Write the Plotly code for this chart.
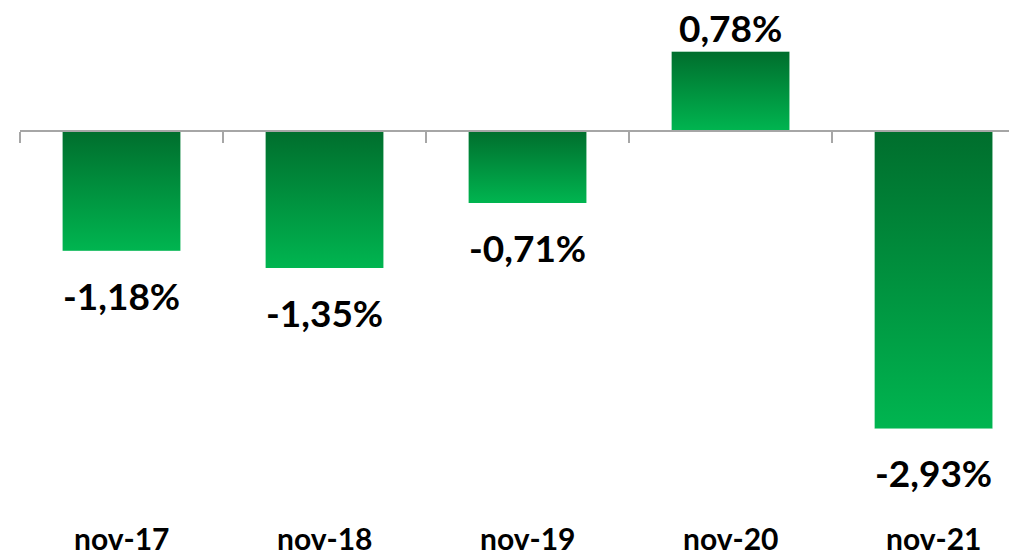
import plotly.graph_objects as go

# ---- data ----
categories = ["nov-17", "nov-18", "nov-19", "nov-20", "nov-21"]
values = [-1.18, -1.35, -0.71, 0.78, -2.93]
value_labels = ["-1,18%", "-1,35%", "-0,71%", "0,78%", "-2,93%"]

# ---- styling ----
BAR_W = 0.58
DARK = "#006E2D"
LIGHT = "#00B550"
AXIS_GRAY = "#A6A6A6"
Y_MIN, Y_MAX = -4.148, 1.212
X_MIN, X_MAX = -0.5, 4.411
FONT = "Lato"

xs = list(range(len(categories)))
fig = go.Figure()

# base bars
fig.add_trace(go.Bar(
    x=xs, y=values, width=BAR_W,
    marker=dict(color=LIGHT, line=dict(color="white", width=1)),
    showlegend=False, hoverinfo="skip",
))

# vertical gradient overlay per bar (dark at top, light at bottom)
for i, v in zip(xs, values):
    lo, hi = min(0, v), max(0, v)
    fig.add_trace(go.Scatter(
        x=[i - BAR_W / 2, i + BAR_W / 2, i + BAR_W / 2, i - BAR_W / 2, i - BAR_W / 2],
        y=[lo, lo, hi, hi, lo],
        mode="none", fill="toself",
        fillgradient=dict(type="vertical", colorscale=[[0, LIGHT], [1, DARK]],
                          start=lo, stop=hi),
        showlegend=False, hoverinfo="skip",
    ))

annotations = []
for i, v, t in zip(xs, values, value_labels):
    annotations.append(dict(
        x=i, y=v, xref="x", yref="y", text=t, showarrow=False,
        yanchor="top" if v < 0 else "bottom",
        yshift=-20 if v < 0 else 0,
        font=dict(family=FONT, size=37, color="black", weight="bold"),
    ))
for i, c in zip(xs, categories):
    annotations.append(dict(
        x=i, y=0.026, xref="x", yref="paper", text=c, showarrow=False,
        yanchor="middle",
        font=dict(family=FONT, size=30, color="black", weight="bold"),
    ))

zero_pos = (0 - Y_MIN) / (Y_MAX - Y_MIN)
fig.update_layout(
    width=1009, height=544,
    margin=dict(l=12, r=0, t=0, b=0),
    paper_bgcolor="white", plot_bgcolor="white",
    showlegend=False,
    xaxis=dict(range=[X_MIN, X_MAX], anchor="free", position=zero_pos,
               showline=True, linecolor=AXIS_GRAY, linewidth=2,
               ticks="outside", ticklen=11, tickwidth=2, tickcolor=AXIS_GRAY,
               tickvals=[-0.5, 0.5, 1.5, 2.5, 3.5], showticklabels=False,
               showgrid=False, zeroline=False),
    yaxis=dict(range=[Y_MIN, Y_MAX], visible=False, showgrid=False, zeroline=False),
    annotations=annotations,
)

fig.write_html("out.html")
